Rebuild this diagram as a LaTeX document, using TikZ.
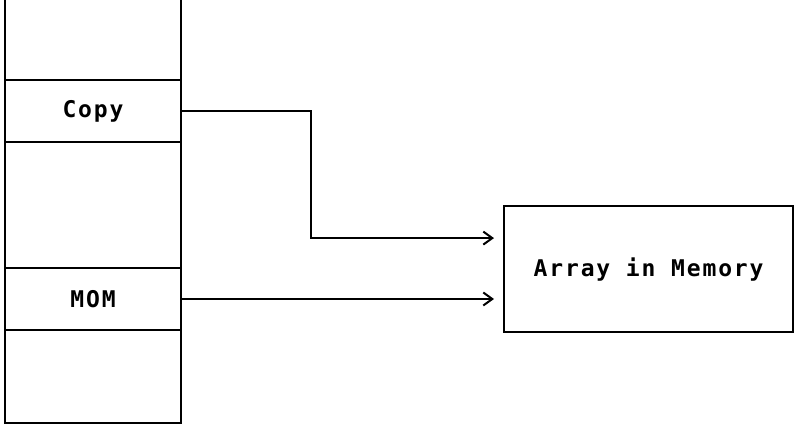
\documentclass[tikz,border=0pt]{standalone}
\usepackage{fontspec}
\newfontfamily\ttype[LetterSpace=8]{DejaVu Sans Mono}
\usetikzlibrary{arrows.meta,positioning}
\tikzset{
  slot/.style    = {rectangle, inner sep=0pt, outer sep=0pt, minimum width=176pt},
  cellbox/.style = {slot, draw, line width=2.2pt},
  membox/.style  = {draw, line width=2.2pt, rectangle, inner sep=0pt,
                    minimum width=289pt, minimum height=126pt},
  sig/.style     = {-{Straight Barb[length=9pt,width=13pt,line width=2pt]},
                    line width=2pt, shorten >=9pt},
}
\begin{document}
\begin{tikzpicture}[x=1pt,y=1pt,font=\ttype\bfseries\fontsize{23}{26}\selectfont]
\useasboundingbox (0,0) rectangle (796,425);
% the stack, top to bottom
\node[slot,minimum height=80pt,anchor=north west] (top) at (5,425) {};
\node[cellbox,minimum height=62pt,below=0pt of top] (copy) {Copy};
\node[slot,minimum height=126pt,below=0pt of copy] (gap) {};
\node[cellbox,minimum height=62pt,below=0pt of gap] (mom) {MOM};
\node[slot,minimum height=93pt,below=0pt of mom] (base) {};
\draw[line width=2.2pt] (top.north west) -- (base.south west) -- (base.south east) -- (top.north east);
\node[membox,anchor=north west] (array) at (503,220) {Array in Memory};
% both references point at the same array
\draw[sig] (copy.east) -- ++(130,0) |- ([yshift=31pt]array.west);
\draw[sig] (mom.east) -- (mom.east -| array.west);
\end{tikzpicture}
\end{document}
